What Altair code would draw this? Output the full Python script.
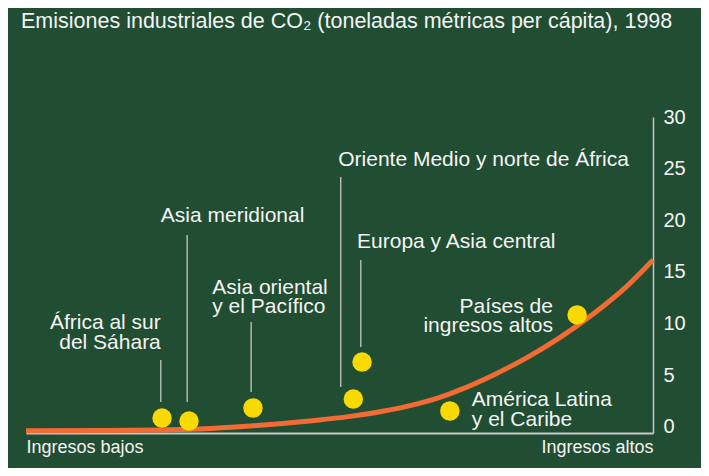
import altair as alt
import pandas as pd

# Curve (schematic income vs emissions path)
curve_x = [0, 11.8, 21.4, 27.8, 35.7, 41.0, 46.4, 51.7, 56.9, 62.4, 66.0, 69.2,
           74.5, 79.9, 85.2, 90.4, 95.9, 100]
curve_y = [-0.38, -0.36, -0.31, -0.21, 0.07, 0.32, 0.63, 1.01, 1.50, 2.22, 2.85,
           3.57, 5.00, 6.70, 8.66, 10.90, 13.65, 16.15]

# Regions (dots)
regions = [
    "África al sur del Sáhara",
    "Asia meridional",
    "Asia oriental y el Pacífico",
    "Oriente Medio y norte de África",
    "Europa y Asia central",
    "América Latina y el Caribe",
    "Países de ingresos altos",
]
region_x = [21.7, 26.0, 36.2, 52.2, 53.6, 67.6, 87.9]
region_y = [0.85, 0.56, 1.82, 2.69, 6.27, 1.53, 10.83]

# Leader lines (first five regions)
leader_x = [21.5, 25.7, 35.9, 50.2, 53.4]
leader_top = [6.47, 18.57, 10.15, 24.19, 16.15]
leader_bottom = [2.40, 2.40, 3.37, 3.85, 7.73]

# Label lines
label_text = ["África al sur", "del Sáhara", "Asia meridional", "Asia oriental",
              "y el Pacífico", "Oriente Medio y norte de África",
              "Europa y Asia central", "Países de", "ingresos altos",
              "América Latina", "y el Caribe"]
label_x = [21.5, 21.5, 21.5, 29.7, 29.7, 49.8, 52.8, 84.05, 84.05, 71.1, 71.1]
label_y = [10.05, 8.11, 20.41, 13.44, 11.60, 25.84, 17.89, 11.60, 9.76, 2.59, 0.66]
right_aligned = {"África al sur", "del Sáhara", "Países de", "ingresos altos"}

y_ticks = [0, 5, 10, 15, 20, 25, 30]

FONT = "Liberation Sans"
TEXT = "#f4f4f4"

curve_df = pd.DataFrame({"x": curve_x, "y": curve_y})
dots_df = pd.DataFrame({"region": regions, "x": region_x, "y": region_y})
leader_df = pd.DataFrame({"x": leader_x, "y": leader_top, "y2": leader_bottom})
label_df = pd.DataFrame({"text": label_text, "x": label_x, "y": label_y})
label_df["side"] = ["right" if t in right_aligned else "left" for t in label_text]

x_scale = alt.Scale(domain=[0, 100], nice=False, zero=False)
y_scale = alt.Scale(domain=[-0.6, 30], nice=False, zero=False)

curve = (
    alt.Chart(curve_df)
    .mark_line(color="#f26b35", strokeWidth=5, interpolate="monotone")
    .encode(
        alt.X("x:Q", scale=x_scale).axis(
            values=[0, 100],
            labelExpr="datum.value == 0 ? 'Ingresos bajos' : 'Ingresos altos'",
            labelFlush=True,
            ticks=False,
            tickSize=0,
            grid=False,
            domainColor="#c8c8c8",
            domainWidth=2,
            labelPadding=5,
            labelColor=TEXT,
            labelFont=FONT,
            labelFontSize=18,
            title=None,
        ),
        alt.Y("y:Q", scale=y_scale).axis(
            orient="right",
            values=y_ticks,
            ticks=False,
            tickSize=0,
            grid=False,
            domainColor="#c8c8c8",
            domainWidth=1.5,
            labelPadding=10,
            labelColor=TEXT,
            labelFont=FONT,
            labelFontSize=20,
            title=None,
        ),
    )
)

leaders = (
    alt.Chart(leader_df)
    .mark_rule(color="#d2d2d2", strokeWidth=1.2)
    .encode(alt.X("x:Q", scale=x_scale), alt.Y("y:Q", scale=y_scale), alt.Y2("y2:Q"))
)

dots = (
    alt.Chart(dots_df)
    .mark_circle(color="#f8da00", size=380, opacity=1)
    .encode(alt.X("x:Q", scale=x_scale), alt.Y("y:Q", scale=y_scale))
)

base_text = alt.Chart(label_df).encode(
    alt.X("x:Q", scale=x_scale), alt.Y("y:Q", scale=y_scale), alt.Text("text:N")
)
labels_left = base_text.transform_filter("datum.side == 'left'").mark_text(
    align="left", baseline="middle", font=FONT, fontSize=21, color=TEXT
)
labels_right = base_text.transform_filter("datum.side == 'right'").mark_text(
    align="right", baseline="middle", font=FONT, fontSize=21, color=TEXT
)

chart = (
    alt.layer(curve, leaders, dots, labels_left, labels_right)
    .properties(
        width=627,
        height=316,
        autosize=alt.AutoSizeParams(type="none"),
        padding={"left": 18, "top": 109, "right": 48, "bottom": 35},
        title=alt.TitleParams(
            "Emisiones industriales de CO₂ (toneladas métricas per cápita), 1998",
            anchor="start",
            frame="group",
            dx=-5,
            offset=75,
            font=FONT,
            fontSize=21.5,
            fontWeight="normal",
            color=TEXT,
        ),
    )
    .configure(background="#214d32")
    .configure_view(stroke=None)
)

chart.save("out.html", embed_options={"renderer": "svg", "actions": False})
